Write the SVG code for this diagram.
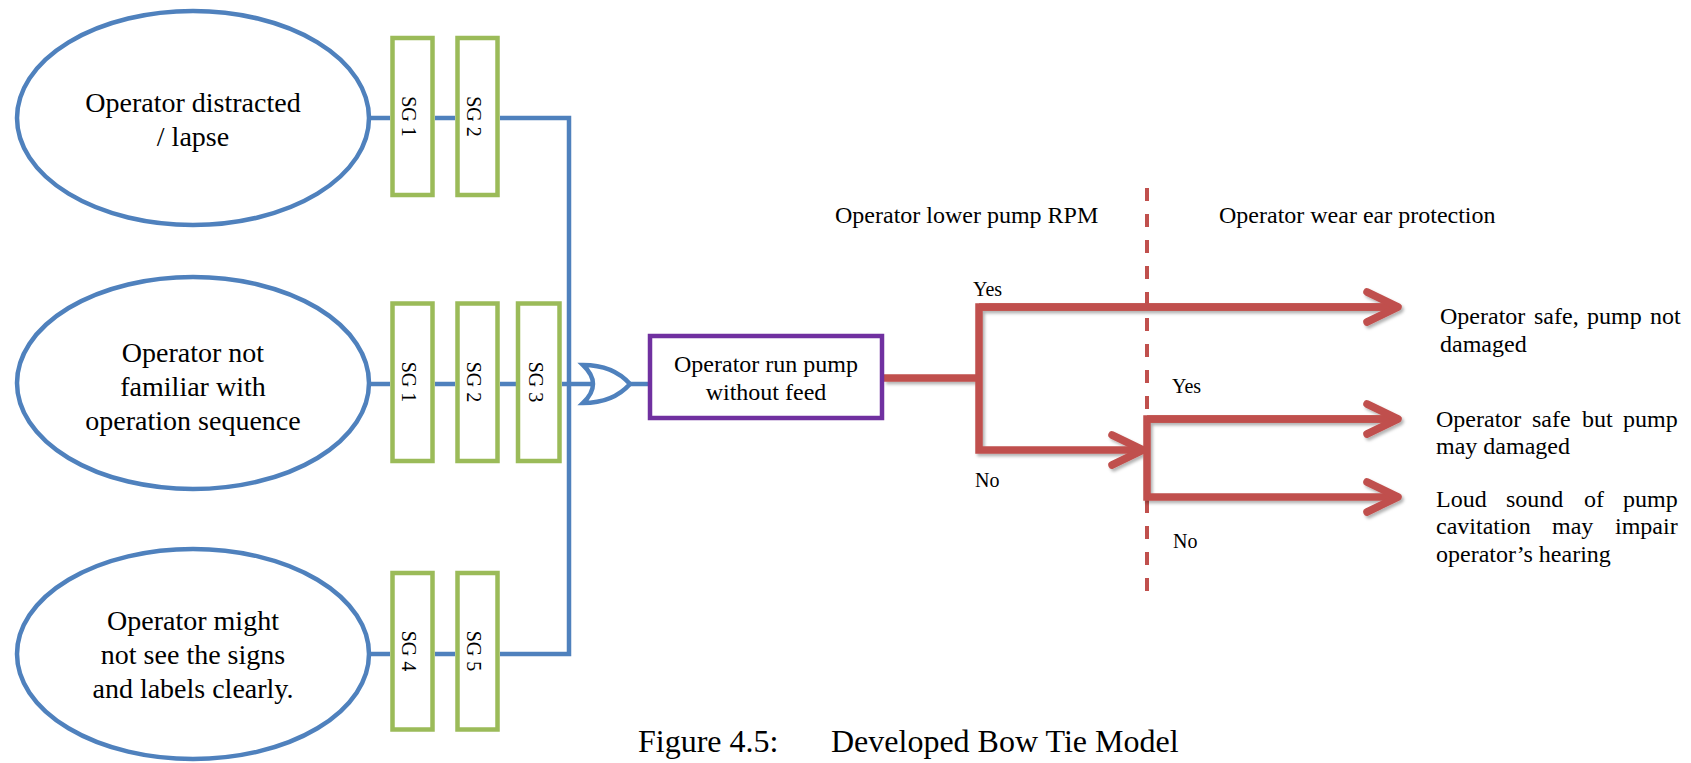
<svg xmlns="http://www.w3.org/2000/svg" width="1691" height="763" viewBox="0 0 1691 763">
  <style>
    .cause { fill: #ffffff; stroke: #4F81BD; stroke-width: 4.5; }
    .sg { fill: #ffffff; stroke: #9BBB59; stroke-width: 4.5; }
    .blue { fill: none; stroke: #4F81BD; stroke-width: 4.5; }
    .red { fill: none; stroke: #C0504D; stroke-width: 7.5; stroke-linejoin: miter; }
    text { font-family: "Liberation Serif", "Times New Roman", serif; fill: #000000; }
    .big { font-size: 28px; }
    .mid { font-size: 24px; }
    .sm { font-size: 20px; }
    .sgt { font-size: 20px; }
  </style>
  <defs>
    <marker id="chev" markerUnits="userSpaceOnUse" viewBox="-40 -20 44 40" markerWidth="44" markerHeight="40" refX="0" refY="0" orient="auto" overflow="visible">
      <path d="M-31,-15 L0,0 L-31,15" fill="none" stroke="#C0504D" stroke-width="7.5" stroke-linecap="round" stroke-linejoin="round"/>
    </marker>
    <filter id="shadow" x="-5%" y="-20%" width="110%" height="140%">
      <feDropShadow dx="2" dy="2.5" stdDeviation="1.5" flood-color="#000000" flood-opacity="0.3"/>
    </filter>
  </defs>

  <!-- connectors -->
  <g id="connectors">
    <path class="blue" d="M371,118 L390,118 M435,118 L455,118 M500,118 L569,118 L569,654 L500,654"/>
    <path class="blue" d="M371,384 L390,384 M435,384 L455,384 M500,384 L516,384 M562,384 L593,384 M630,384 L650,384"/>
    <path class="blue" d="M371,654 L390,654 M435,654 L455,654"/>
    <line x1="1147" y1="188" x2="1147" y2="595" stroke="#C0504D" stroke-width="4" stroke-dasharray="13 13"/>
    <g filter="url(#shadow)">
      <path class="red" d="M884,378 L979,378"/>
      <path class="red" d="M1398,307 L979,307 L979,450 L1143,450" marker-end="url(#chev)"/>
      <path class="red" d="M979,307 L1398,307" marker-end="url(#chev)"/>
      <path class="red" d="M1398,419 L1147,419 L1147,497 L1398,497" marker-end="url(#chev)"/>
      <path class="red" d="M1147,419 L1398,419" marker-end="url(#chev)"/>
    </g>
  </g>

  <!-- causes -->
  <g id="cause1">
    <ellipse class="cause" cx="193" cy="118" rx="176" ry="107"/>
    <text class="big" font-family="Liberation Serif, serif" text-anchor="middle" x="193" y="112">Operator distracted</text>
    <text class="big" font-family="Liberation Serif, serif" text-anchor="middle" x="193" y="146">/ lapse</text>
  </g>
  <g id="cause2">
    <ellipse class="cause" cx="193" cy="383" rx="176" ry="106"/>
    <text class="big" font-family="Liberation Serif, serif" text-anchor="middle" x="193" y="362">Operator not</text>
    <text class="big" font-family="Liberation Serif, serif" text-anchor="middle" x="193" y="396">familiar with</text>
    <text class="big" font-family="Liberation Serif, serif" text-anchor="middle" x="193" y="430">operation sequence</text>
  </g>
  <g id="cause3">
    <ellipse class="cause" cx="193" cy="654" rx="176" ry="105"/>
    <text class="big" font-family="Liberation Serif, serif" text-anchor="middle" x="193" y="630">Operator might</text>
    <text class="big" font-family="Liberation Serif, serif" text-anchor="middle" x="193" y="664">not see the signs</text>
    <text class="big" font-family="Liberation Serif, serif" text-anchor="middle" x="193" y="698">and labels clearly.</text>
  </g>

  <!-- safeguards -->
  <g id="sg-r1-1">
    <rect class="sg" x="392.5" y="38" width="40" height="157"/>
    <text class="sgt" text-anchor="middle" transform="translate(409,116.5) rotate(90)" dy="0.35em">SG 1</text>
  </g>
  <g id="sg-r1-2">
    <rect class="sg" x="457.5" y="38" width="40" height="157"/>
    <text class="sgt" text-anchor="middle" transform="translate(474,116.5) rotate(90)" dy="0.35em">SG 2</text>
  </g>
  <g id="sg-r2-1">
    <rect class="sg" x="392.5" y="303.5" width="40" height="157.5"/>
    <text class="sgt" text-anchor="middle" transform="translate(409,382) rotate(90)" dy="0.35em">SG 1</text>
  </g>
  <g id="sg-r2-2">
    <rect class="sg" x="457.5" y="303.5" width="40" height="157.5"/>
    <text class="sgt" text-anchor="middle" transform="translate(474,382) rotate(90)" dy="0.35em">SG 2</text>
  </g>
  <g id="sg-r2-3">
    <rect class="sg" x="518" y="303.5" width="41.5" height="157.5"/>
    <text class="sgt" text-anchor="middle" transform="translate(535.5,382) rotate(90)" dy="0.35em">SG 3</text>
  </g>
  <g id="sg-r3-4">
    <rect class="sg" x="392.5" y="573" width="40" height="156.5"/>
    <text class="sgt" text-anchor="middle" transform="translate(409,651) rotate(90)" dy="0.35em">SG 4</text>
  </g>
  <g id="sg-r3-5">
    <rect class="sg" x="457.5" y="573" width="40" height="156.5"/>
    <text class="sgt" text-anchor="middle" transform="translate(474,651) rotate(90)" dy="0.35em">SG 5</text>
  </g>

  <!-- OR gate -->
  <g id="or-gate">
    <path class="blue" d="M583,365 Q603,384 583,403 Q613,403 630,384 Q613,365 583,365 Z" fill="#ffffff"/>
  </g>

  <!-- top event -->
  <g id="top-event">
    <rect x="650" y="336" width="232" height="82" fill="#ffffff" stroke="#7030A0" stroke-width="4.5"/>
    <text class="mid" text-anchor="middle" x="766" y="372">Operator run pump</text>
    <text class="mid" text-anchor="middle" x="766" y="400">without feed</text>
  </g>

  <!-- barrier headers -->
  <g id="header1"><text class="mid" x="835" y="223">Operator lower pump RPM</text></g>
  <g id="header2"><text class="mid" x="1219" y="223">Operator wear ear protection</text></g>

  <!-- branch labels -->
  <g id="yes1"><text class="sm" x="973" y="296">Yes</text></g>
  <g id="no1"><text class="sm" x="975" y="487">No</text></g>
  <g id="yes2"><text class="sm" x="1172" y="393">Yes</text></g>
  <g id="no2"><text class="sm" x="1173" y="548">No</text></g>

  <!-- outcomes -->
  <g id="outcome1">
    <text class="mid" y="324"><tspan x="1440">Operator</tspan><tspan x="1534">safe,</tspan><tspan x="1587">pump</tspan><tspan x="1650">not</tspan></text>
    <text class="mid" x="1440" y="352">damaged</text>
  </g>
  <g id="outcome2">
    <text class="mid" y="427"><tspan x="1436">Operator</tspan><tspan x="1532">safe</tspan><tspan x="1582">but</tspan><tspan x="1623">pump</tspan></text>
    <text class="mid" x="1436" y="454">may damaged</text>
  </g>
  <g id="outcome3">
    <text class="mid" y="507"><tspan x="1436">Loud</tspan><tspan x="1506">sound</tspan><tspan x="1584">of</tspan><tspan x="1623">pump</tspan></text>
    <text class="mid" y="534"><tspan x="1436">cavitation</tspan><tspan x="1552">may</tspan><tspan x="1615">impair</tspan></text>
    <text class="mid" x="1436" y="562">operator’s hearing</text>
  </g>

  <!-- caption -->
  <g id="caption">
    <text font-size="32" x="638" y="752">Figure 4.5:</text>
    <text font-size="32" x="831" y="752">Developed Bow Tie Model</text>
  </g>
</svg>
